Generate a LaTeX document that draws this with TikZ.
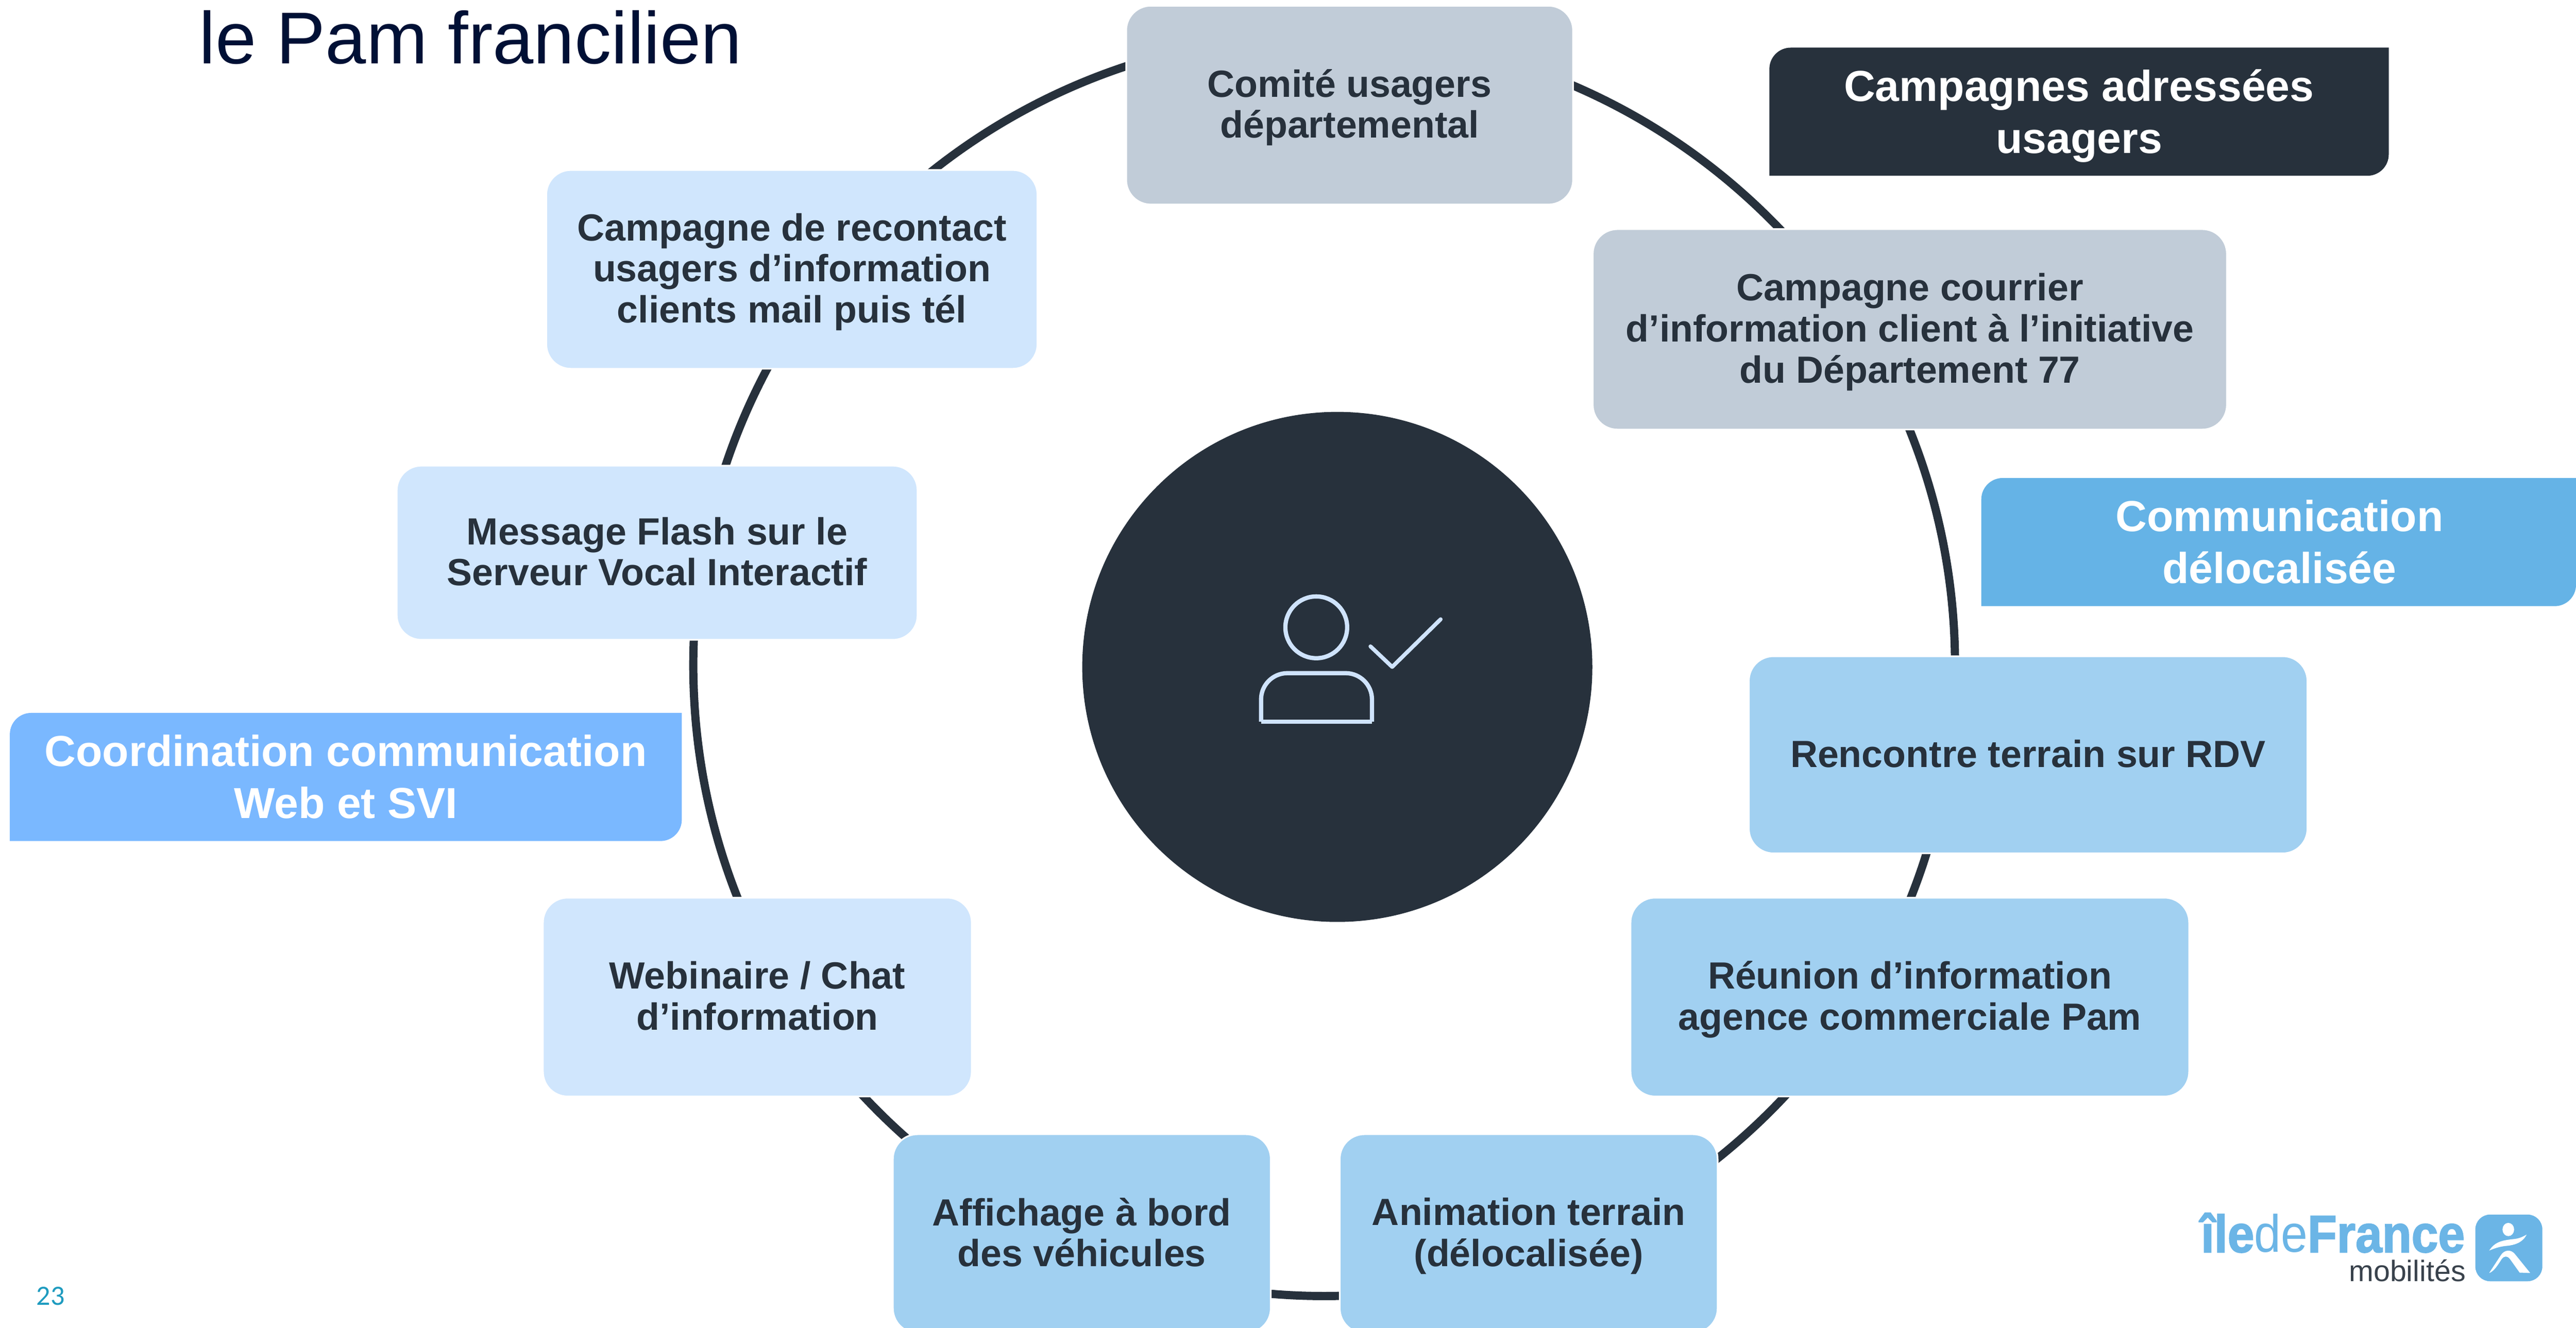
\documentclass[tikz,border=0pt]{standalone}
\usepackage{fontspec}
\setmainfont{Liberation Sans}
\newfontfamily\pagefont{Carlito}
\newfontfamily\logofont[BoldFeatures={FakeBold=2}]{Liberation Sans}
\definecolor{inkdark}{HTML}{27313C}
\definecolor{greybox}{HTML}{C1CCD8}
\definecolor{lightbox}{HTML}{D0E6FD}
\definecolor{midbox}{HTML}{A1D0F1}
\definecolor{tagone}{HTML}{65B3E6}
\definecolor{tagtwo}{HTML}{7AB8FF}
\definecolor{titleink}{HTML}{001035}
\definecolor{pageink}{HTML}{1E9BBF}
\definecolor{logoblue}{HTML}{6BB5E6}
\definecolor{logoink}{HTML}{39424C}
\definecolor{iconline}{HTML}{CFE3FC}
\tikzset{
  cardbox/.style={draw=white,line width=1pt,rounded corners=15pt,align=center,inner sep=0pt,
    text=inkdark,font=\fontsize{23.05}{25}\selectfont\bfseries},
  tagbox/.style={text=white,align=center,inner sep=0pt,font=\fontsize{26.4}{31.7}\selectfont\bfseries},
  iconstroke/.style={draw=iconline,line width=2.6pt},
}
\newcommand{\cs}{\rule[-4.7pt]{0pt}{24.5pt}}
\newcommand{\ts}{\rule[-6.1pt]{0pt}{31pt}}
\newcommand{\card}[7]{% name, l, t, r, b, fill, text
  \node[cardbox,fill=#6,minimum width={(#4-#2+1)*1pt},minimum height={(#5-#3+1)*1pt}] (#1)
    at ({(#2+#4)/2},{(#3+#5)/2}) {#7};}
\newcommand{\tagshape}[5]{% fill, l, t, r, b
  \fill[#1] (#2,#5) -- (#2,#3+13) .. controls (#2,#3+5.82) and (#2+5.82,#3) .. (#2+13,#3)
    -- (#4,#3) -- (#4,#5-13) .. controls (#4,#5-5.82) and (#4-5.82,#5) .. (#4-13,#5) -- cycle;}
\begin{document}
\begin{tikzpicture}[x=1pt,y=-1pt]
\useasboundingbox (0,0) rectangle (1568,808.35);
\clip (0,0) rectangle (1568,808.35);
\fill[white] (0,0) rectangle (1568,808.35);
% ring and centre
\coordinate (ringc) at (806,405);
\draw[inkdark,line width=5pt] (ringc) circle[radius=384pt];
\node[circle,fill=inkdark,minimum size=310.5pt,inner sep=0pt] (hub) at (814,406) {};
% person icon
\node[circle,iconstroke,minimum size=37.6pt,inner sep=0pt] (head) at (801.2,381.9) {};
\draw[iconstroke,rounded corners=16pt] (767.6,439.3) -- (767.6,409.8) -- (835.1,409.8) -- (835.1,439.3);
\draw[iconstroke] (767.6,439.3) -- (835.1,439.3);
\draw[draw=iconline,line width=2.4pt,line cap=round,line join=round] (834.2,393.5) -- (847.4,406) -- (876.9,377);
% title and page number
\node[anchor=base west,inner sep=0pt,text=titleink,font=\fontsize{44.7}{50}\selectfont] (title) at (121,38.8) {le Pam francilien};
\node[anchor=base west,inner sep=0pt,text=pageink,font=\pagefont\fontsize{17}{18}\selectfont] (pageno) at (22,794.4) {23};
% cards
\card{comite}{686}{4}{957}{124}{greybox}{\cs Comité usagers\\\cs départemental}
\card{courrier}{970}{140}{1355}{261}{greybox}{\cs Campagne courrier\\\cs d’information client à l’initiative\\\cs du Département 77}
\card{recontact}{333}{104}{631}{224}{lightbox}{\cs Campagne de recontact\\\cs usagers d’information\\\cs clients mail puis tél}
\card{flash}{242}{284}{558}{389}{lightbox}{\cs Message Flash sur le\\\cs Serveur Vocal Interactif}
\card{webinaire}{331}{547}{591}{667}{lightbox}{\cs Webinaire / Chat\\\cs d’information}
\card{rencontre}{1065}{400}{1404}{519}{midbox}{\cs Rencontre terrain sur RDV}
\card{reunion}{993}{547}{1332}{667}{midbox}{\cs Réunion d’information\\\cs agence commerciale Pam}
\card{animation}{816}{691}{1045}{811}{midbox}{\cs Animation terrain\\\cs (délocalisée)}
\card{affichage}{544}{691}{773}{811}{midbox}{\cs Affichage à bord\\\cs des véhicules}
% tags
\tagshape{inkdark}{1077}{29}{1454}{107}
\node[tagbox] (tagA) at (1265.5,68) {\ts Campagnes adressées\\\ts usagers};
\tagshape{tagone}{1206}{291}{1568}{369}
\node[tagbox] (tagB) at (1387.5,330) {\ts Communication\\\ts délocalisée};
\tagshape{tagtwo}{6}{434}{415}{512}
\node[tagbox] (tagC) at (210.5,473) {\ts Coordination communication\\\ts Web et SVI};
% logo
\node[anchor=base east,inner sep=0pt,text=logoblue,font=\logofont\fontsize{32}{34}\selectfont] (ile) at (1500.5,762.3) {\scalebox{0.912}[1]{\textbf{île}de\textbf{France}}};
\node[anchor=base east,inner sep=0pt,text=logoink,font=\fontsize{18}{18}\selectfont] (mob) at (1501,780) {mobilités};
\node[rounded corners=9pt,fill=logoblue,minimum width=40.8pt,minimum height=40.6pt,inner sep=0pt] (logoicon) at (1527.1,759.7) {};
\begin{scope}[shift={(1303.3,713.75)},xscale=0.1688,yscale=0.1034]
\fill[white] (1324,336) ellipse[x radius=21,y radius=39];
\fill[white] (1255,460) .. controls (1275,410) and (1300,400) .. (1340,393) .. controls (1365,390) and (1380,375) .. (1390,366)
  .. controls (1380,400) and (1360,425) .. (1320,432) .. controls (1290,436) and (1270,450) .. (1255,460) -- cycle;
\fill[white] (1255,592) -- (1298,485) .. controls (1310,455) and (1335,450) .. (1350,485) -- (1403,592) -- (1365,590) -- (1330,510) .. controls (1320,490) and (1310,490) .. (1300,510) .. controls (1285,550) and (1270,585) .. (1255,592) -- cycle;
\end{scope}
\end{tikzpicture}
\end{document}
